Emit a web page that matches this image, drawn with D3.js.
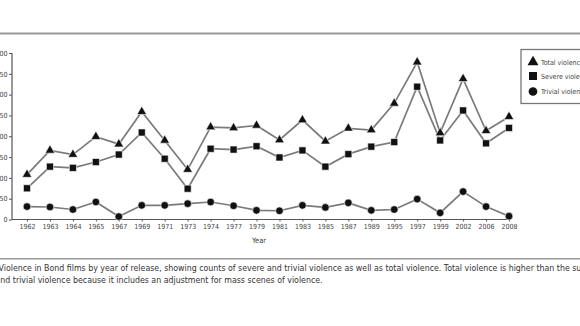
<!DOCTYPE html>
<html><head><meta charset="utf-8">
<script src="https://cdn.jsdelivr.net/npm/d3@7"></script>
<style>
html,body{margin:0;padding:0;background:#fff;}
svg{display:block;}
text{font-family:"DejaVu Sans Condensed","Liberation Sans Narrow",sans-serif;}
</style></head>
<body><svg id="c" width="580" height="326"></svg>
<script>
const years = ["1962","1963","1964","1965","1967","1969","1971","1973","1974","1977","1979","1981","1983","1985","1987","1989","1995","1997","1999","2002","2006","2008"];
const totalViolence = [108,166,156,199,181,259,190,120,222,220,226,191,239,188,219,215,279,378,208,338,213,247];
const severeViolence = [75,127,124,138,156,209,146,74,170,168,176,149,166,127,157,175,186,319,190,262,183,220];
const trivialViolence = [31,30,24,42,7,34,34,38,42,33,22,21,34,29,40,22,24,49,16,67,31,8];
const yTicks = [0,50,100,150,200,250,300,350,400];
const seriesNames = ["Total violence","Severe violence","Trivial violence"];
const captionLines = [
  "Violence in Bond films by year of release, showing counts of severe and trivial violence as well as total violence. Total violence is higher than the sum of severe",
  "and trivial violence because it includes an adjustment for mass scenes of violence."
];

const svg = d3.select("#c");
const x = d3.scalePoint().domain(years).range([27, 509]);
const y = d3.scaleLinear().domain([0, 400]).range([219.5, 53]);

// top & bottom rules
svg.append("rect").attr("x",0).attr("y",32.5).attr("width",580).attr("height",2).attr("fill","#9a9a9a");
svg.append("rect").attr("x",0).attr("y",258).attr("width",580).attr("height",1.5).attr("fill","#9a9a9a");

// y axis
const yAxis = svg.append("g").attr("transform","translate(12,0)")
  .call(d3.axisLeft(y).tickValues(yTicks).tickSize(3).tickPadding(1.5));
yAxis.select(".domain").attr("stroke","#555").attr("stroke-width",1.2).attr("d","M0,"+y(400)+"V"+y(0));
yAxis.selectAll(".tick line").attr("stroke","#555");
yAxis.selectAll("text").attr("fill","#444").style("font-size","7px");

// x axis
const xAxis = svg.append("g").attr("transform","translate(0,"+y(0)+")")
  .call(d3.axisBottom(x).tickSize(2).tickPadding(3));
xAxis.select(".domain").attr("stroke","#555").attr("stroke-width",1.2).attr("d","M12,0H511");
xAxis.selectAll(".tick line").attr("stroke","#555");
xAxis.selectAll("text").attr("fill","#444").style("font-size","7px");

svg.append("text").attr("x",259).attr("y",243).attr("text-anchor","middle")
  .attr("fill","#444").style("font-size","7.5px").text("Year");

const series = [
  {name: seriesNames[0], values: totalViolence, sym: d3.symbolTriangle, size: 40},
  {name: seriesNames[1], values: severeViolence, sym: d3.symbolSquare, size: 50},
  {name: seriesNames[2], values: trivialViolence, sym: d3.symbolCircle, size: 46}
];
const line = d3.line().x((d,i)=>x(years[i])).y(d=>y(d));
series.forEach(s=>{
  svg.append("path").datum(s.values).attr("d",line)
    .attr("fill","none").attr("stroke","#7a7a7a").attr("stroke-width",1.7);
});
series.forEach(s=>{
  svg.append("g").selectAll("path").data(s.values).join("path")
    .attr("transform",(d,i)=>"translate("+x(years[i])+","+y(d)+")")
    .attr("d", d3.symbol().type(s.sym).size(s.size))
    .attr("fill","#111").attr("stroke","#fff").attr("stroke-width",0.6);
});

// legend
const lg = svg.append("g");
lg.append("rect").attr("x",521).attr("y",49.5).attr("width",70).attr("height",54)
  .attr("fill","#fff").attr("stroke","#777").attr("stroke-width",1.3);
const ly = [62,76,91.5];
series.forEach((s,i)=>{
  lg.append("path").attr("transform","translate(533,"+ly[i]+")")
    .attr("d", d3.symbol().type(s.sym).size(s.size*1.3)).attr("fill","#111");
  lg.append("text").attr("x",541).attr("y",ly[i]+2.5).attr("fill","#444")
    .style("font-size","7px").text(s.name);
});

// caption
captionLines.forEach((t,i)=>{
  svg.append("text").attr("x", i===0 ? -1.5 : -4.5).attr("y", 271 + i*12)
    .attr("fill","#333").style("font-size","8.75px").text(t);
});
</script></body></html>
